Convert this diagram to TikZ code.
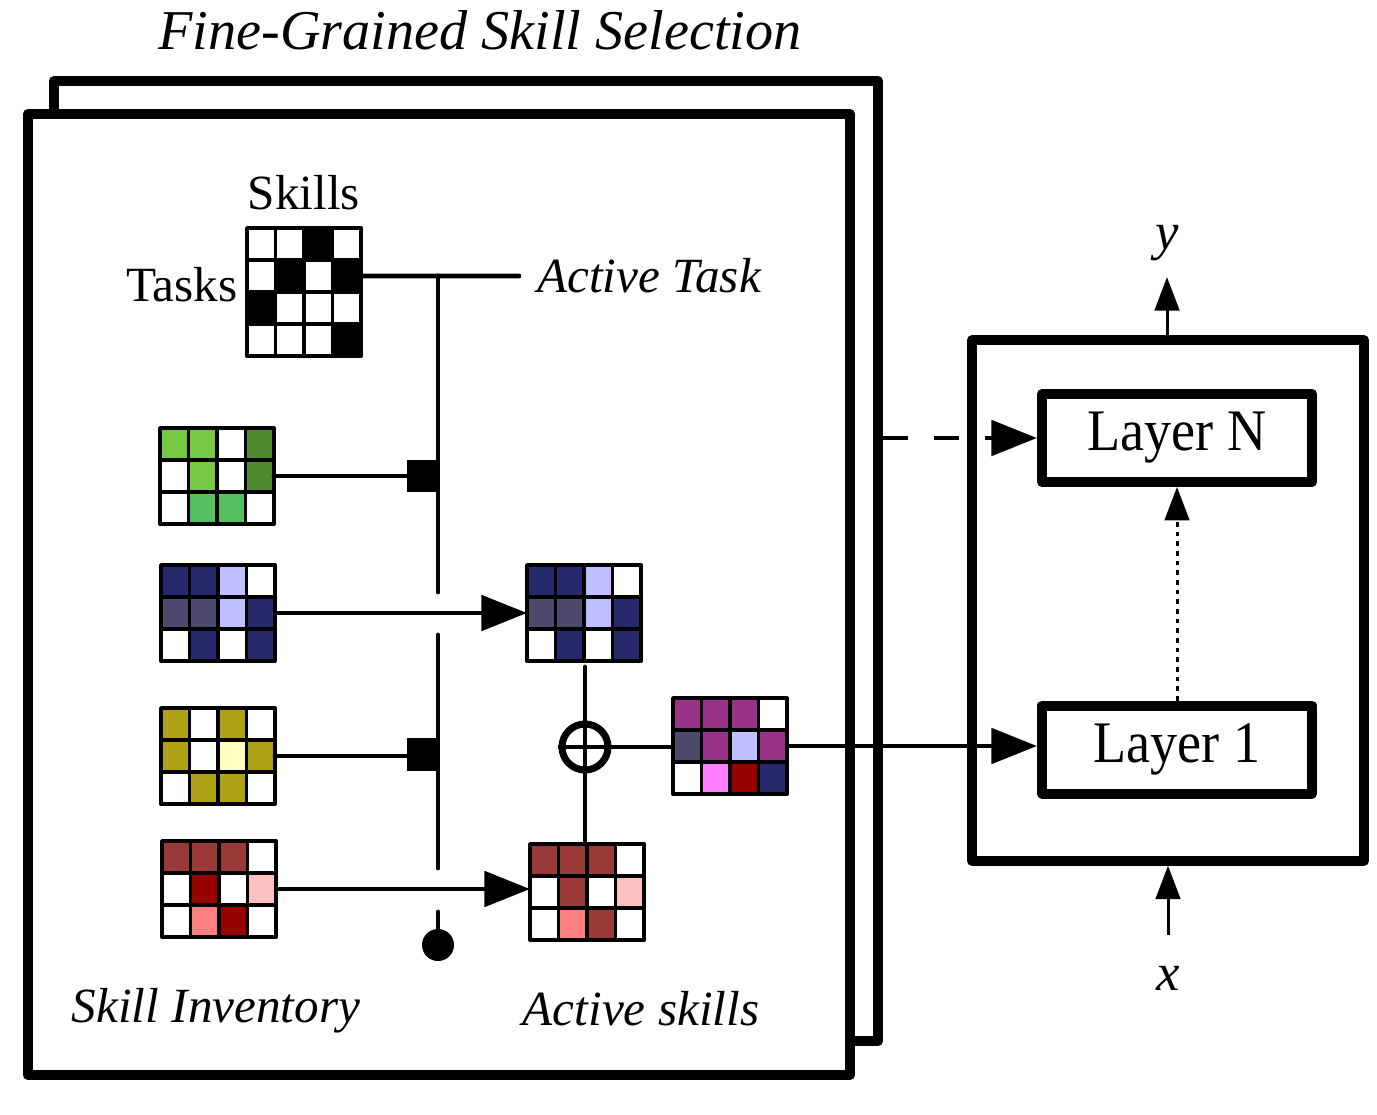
\documentclass[tikz,border=0pt]{standalone}
\usepackage{fontspec}
\setmainfont{Liberation Serif}
\newfontfamily\layerfont{Liberation Serif}[FakeStretch=0.92]
\usetikzlibrary{arrows.meta,calc}

\definecolor{skillnavy}{RGB}{38,42,106}
\definecolor{skillslate}{RGB}{77,74,110}
\definecolor{skilllav}{RGB}{191,191,255}
\definecolor{skilllime}{RGB}{119,200,67}
\definecolor{skillfern}{RGB}{78,138,48}
\definecolor{skillmint}{RGB}{85,192,96}
\definecolor{skillolive}{RGB}{175,161,22}
\definecolor{skillcream}{RGB}{255,255,192}
\definecolor{skillbrick}{RGB}{154,58,56}
\definecolor{skillcrimson}{RGB}{153,0,0}
\definecolor{skillblush}{RGB}{255,192,192}
\definecolor{skillsalmon}{RGB}{255,128,128}
\definecolor{skillplum}{RGB}{153,51,136}
\definecolor{skillorchid}{RGB}{255,128,255}

\tikzset{
    stackframe/.style={draw, line width=6pt, fill=white, line join=round},
    cell/.style={draw=black, line width=2.2pt, line join=round},
    matframe/.style={inner sep=0pt, outer sep=0pt, minimum width=2.28cm},
    wire/.style={line width=2.8pt, line cap=round},
    flow/.style={line width=2.8pt, -{Triangle[length=26pt,width=20pt]}},
    thinflow/.style={line width=1.7pt, -{Triangle[length=19pt,width=14pt]}},
    switchbox/.style={fill=black, inner sep=0pt, minimum width=0.62cm, minimum height=0.65cm},
    layerbox/.style={draw, line width=5.7pt, line join=round, minimum width=5.4cm, minimum height=1.76cm, font=\layerfont\fontsize{33.5}{38}\selectfont},
    lbl/.style={inner sep=0pt, font=\fontsize{28}{34}\selectfont},
    ilbl/.style={inner sep=0pt, font=\fontsize{28}{34}\selectfont\itshape},
}

\newcommand{\cellw}{0.57}
\newcommand{\cellh}{0.64}
% skill matrix: name, top left corner, rows, colours row by row (4 per row)
\newcommand{\skillmat}[4]{%
    \node[matframe, minimum height={#3*\cellh*1cm}, anchor=north west] (#1) at #2 {};
    \foreach \clr [count=\ci from 0] in {#4}{%
        \pgfmathtruncatemacro{\mcol}{mod(\ci,4)}%
        \pgfmathtruncatemacro{\mrow}{div(\ci,4)}%
        \filldraw[cell, fill=\clr] ($(#1.north west)+(\mcol*\cellw,-\mrow*\cellh)$) rectangle ++(\cellw,-\cellh);
    }%
}

\begin{document}
\begin{tikzpicture}
\useasboundingbox (0,0) rectangle (27.54,-22.28);

%---------------------------------------------------------------------------------------- STACKED PAGES
\node[stackframe, minimum width=16.48cm, minimum height=19.2cm] (backpage) at (9.32,-11.22) {};
\node[stackframe, minimum width=16.44cm, minimum height=19.22cm] (frontpage) at (8.78,-11.89) {};
\node[ilbl, font=\fontsize{32}{38}\selectfont\itshape] (title) at (9.6,-0.6) {Fine-Grained Skill Selection};

%---------------------------------------------------------------------------------------- TASK MATRIX
\skillmat{taskmat}{(4.94,-4.56)}{4}{white,white,black,white, white,black,white,black,
    black,white,white,white, white,white,white,black}
\node[lbl] (skillslbl) at (6.08,-3.86) {Skills};
\node[lbl] (taskslbl) at (3.64,-5.7) {Tasks};
\node[ilbl] (activetask) at (12.98,-5.52) {Active Task};

%---------------------------------------------------------------------------------------- SKILL INVENTORY
\skillmat{greenmat}{(3.2,-8.56)}{3}{skilllime,skilllime,white,skillfern,
    white,skilllime,white,skillfern, white,skillmint,skillmint,white}
\skillmat{blueinv}{(3.22,-11.3)}{3}{skillnavy,skillnavy,skilllav,white,
    skillslate,skillslate,skilllav,skillnavy, white,skillnavy,white,skillnavy}
\skillmat{yellowmat}{(3.22,-14.16)}{3}{skillolive,white,skillolive,white,
    skillolive,white,skillcream,skillolive, white,skillolive,skillolive,white}
\skillmat{redinv}{(3.24,-16.82)}{3}{skillbrick,skillbrick,skillbrick,white,
    white,skillcrimson,white,skillblush, white,skillsalmon,skillcrimson,white}
\node[ilbl] (inventorylbl) at (4.32,-20.22) {Skill Inventory};

%---------------------------------------------------------------------------------------- SELECTOR BUS
\coordinate (bushead) at (8.76,-5.52);
\coordinate (busgapA) at (8.76,-11.84);
\coordinate (busgapB) at (8.76,-12.7);
\coordinate (busgapC) at (8.76,-17.36);
\coordinate (busstub) at (8.76,-18.24);
\coordinate (busend) at (8.76,-18.9);
\draw[wire] ($(taskmat.north east)+(0,-1.5*\cellh)$) -- ([xshift=-0.36cm]activetask.west);
\draw[wire] (bushead) -- (busgapA);
\draw[wire] (busgapB) -- (busgapC);
\draw[wire] (busstub) -- (busend);
\fill (busend) circle (0.32);

\node[switchbox, anchor=east] (greensw) at (8.76,-9.52) {};   %------------------------- open switches
\node[switchbox, anchor=east] (yellowsw) at (8.76,-15.09) {};
\draw[wire] (greenmat.east) -- (greenmat.east -| greensw.west);
\draw[wire] (yellowmat.east) -- (yellowmat.east -| yellowsw.west);

%---------------------------------------------------------------------------------------- ACTIVE SKILLS
\skillmat{bluesel}{(10.54,-11.3)}{3}{skillnavy,skillnavy,skilllav,white,
    skillslate,skillslate,skilllav,skillnavy, white,skillnavy,white,skillnavy}
\skillmat{redsel}{(10.6,-16.88)}{3}{skillbrick,skillbrick,skillbrick,white,
    white,skillbrick,white,skillblush, white,skillsalmon,skillbrick,white}
\node[ilbl] (activelbl) at (12.82,-20.18) {Active skills};

\draw[flow] (blueinv.east) -- (blueinv.east -| bluesel.west);
\draw[flow] (redinv.east) -- (redinv.east -| redsel.west);

%---------------------------------------------------------------------------------------- SUM
\node[circle, draw, line width=4pt, minimum size=0.92cm, inner sep=0pt] (sum) at (11.7,-14.94) {};
\skillmat{mixmat}{(13.46,-13.96)}{3}{skillplum,skillplum,skillplum,white,
    skillslate,skillplum,skilllav,skillplum, white,skillorchid,skillcrimson,skillnavy}
\draw[wire] ($(bluesel.south -| sum)+(0,-0.12)$) -- (sum.center |- redsel.north);
\draw[wire, line cap=butt] (sum.west) -- (sum.west -| mixmat.west);

%---------------------------------------------------------------------------------------- MODEL
\node[draw, line width=5.4pt, line join=round, minimum width=7.84cm, minimum height=10.42cm] (modelbox) at (23.36,-12.01) {};
\node[layerbox] (layerN) at (23.54,-8.76) {Layer N};
\node[layerbox] (layerone) at (23.54,-14.99) {Layer 1};

\draw[flow] (mixmat.east) -- (mixmat.east -| layerone.west);
\draw[flow, dash pattern=on 14pt off 15pt] (backpage.east |- layerN.west) -- (layerN.west);
\draw[thinflow, dash pattern=on 2.5pt off 3pt] (layerone.north) -- (layerN.south);

\node[ilbl, font=\fontsize{30}{36}\selectfont\itshape] (ylbl) at (23.34,-4.86) {y};
\node[ilbl, font=\fontsize{30}{36}\selectfont\itshape] (xlbl) at (23.36,-19.56) {x};
\draw[thinflow] (ylbl |- modelbox.north) -- ([yshift=-0.32cm]ylbl.south);
\draw[thinflow] ([yshift=0.62cm]xlbl.north) -- (xlbl |- modelbox.south);

\end{tikzpicture}
\end{document}
